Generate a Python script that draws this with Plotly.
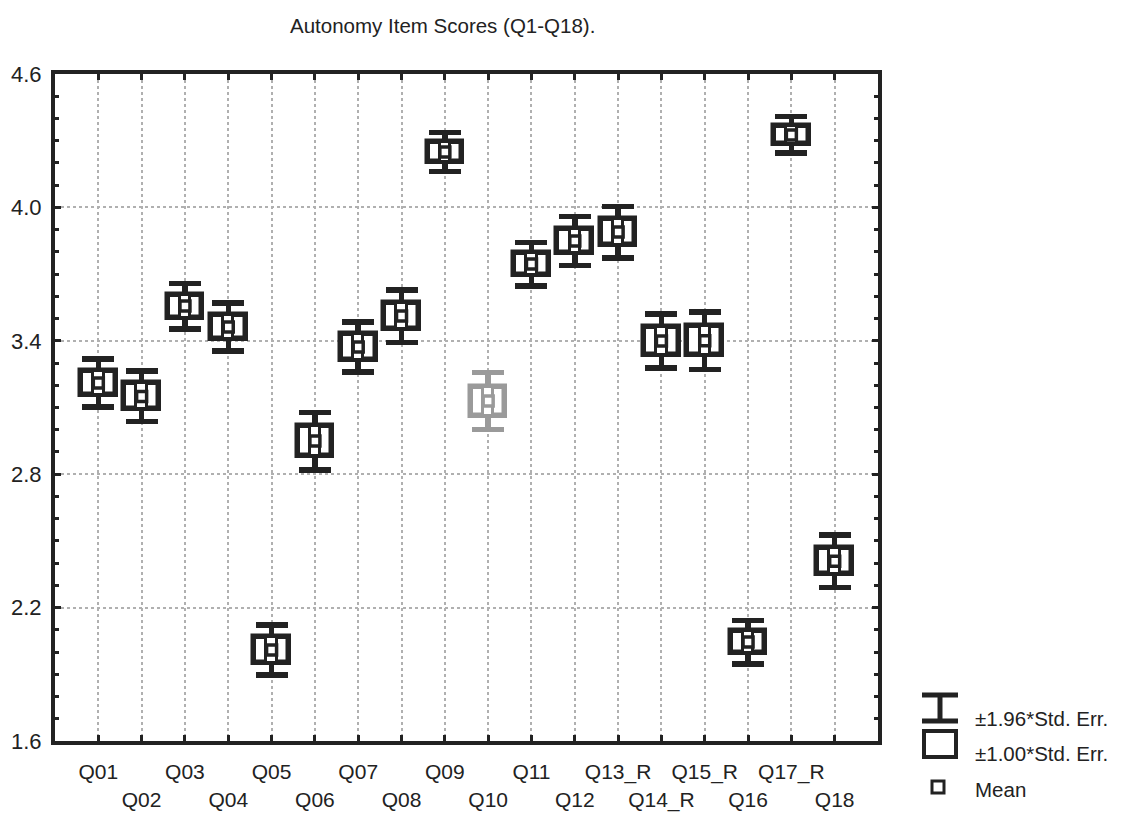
import plotly.graph_objects as go

# Item labels, means and standard errors of the autonomy scale
items = ["Q01", "Q02", "Q03", "Q04", "Q05", "Q06", "Q07", "Q08", "Q09",
         "Q10", "Q11", "Q12", "Q13_R", "Q14_R", "Q15_R", "Q16", "Q17_R", "Q18"]
means = [3.21, 3.15, 3.556, 3.462, 2.009, 2.949, 3.372, 3.511, 4.249,
         3.129, 3.745, 3.849, 3.889, 3.399, 3.40, 2.045, 4.326, 2.409]
std_err = [0.055, 0.058, 0.052, 0.055, 0.057, 0.066, 0.057, 0.060, 0.045,
           0.065, 0.050, 0.056, 0.059, 0.062, 0.066, 0.050, 0.042, 0.060]
item_colors = ["#222222"] * 9 + ["#9a9a9a"] + ["#222222"] * 8

y_ticks = [1.6, 2.2, 2.8, 3.4, 4.0, 4.6]
legend_labels = ["±1.96*Std. Err.", "±1.00*Std. Err.", "Mean"]
title_text = "Autonomy Item Scores (Q1-Q18)."

FONT = "Liberation Sans, Arial, Helvetica, sans-serif"
INK = "#222222"

W, H = 1121, 816
L, R, T, B = 55, 878, 74, 741   # plot-area edges in pixels


def px(X):
    return (X - L) / (R - L)


def py(Y):
    return (B - Y) / (B - T)


fig = go.Figure()
xs = list(range(len(items)))

for i, m, se, c in zip(xs, means, std_err, item_colors):
    # whiskers: ±1.96 SE with caps (carried by an invisible bar ending at the mean)
    fig.add_trace(go.Bar(
        x=[i], y=[m], width=0.8,
        marker=dict(color="rgba(0,0,0,0)", line=dict(width=0)),
        error_y=dict(type="data", array=[1.96 * se], color=c,
                     thickness=5.5, width=16),
        hoverinfo="skip", showlegend=False))
    # ±1 SE box
    fig.add_trace(go.Bar(
        x=[i], y=[2 * se], base=[m - se], width=0.8,
        marker=dict(color="white", line=dict(color=c, width=5.5)),
        hoverinfo="skip", showlegend=False))
    # central column inside the box
    fig.add_trace(go.Bar(
        x=[i], y=[2 * se], base=[m - se], width=0.24,
        marker=dict(color="white", line=dict(color=c, width=3)),
        hoverinfo="skip", showlegend=False))
    # mean marker
    fig.add_trace(go.Scatter(
        x=[i], y=[m], mode="markers",
        marker=dict(symbol="square", size=10, color="white",
                    line=dict(color=c, width=3.5)),
        hoverinfo="skip", showlegend=False))

# staggered category labels: odd items on the first row, even on the second
tick_text = [t if k % 2 == 0 else " <br>" + t for k, t in enumerate(items)]

fig.update_layout(
    width=W, height=H,
    margin=dict(l=L, r=W - R, t=T, b=H - B, pad=0, autoexpand=False),
    paper_bgcolor="white", plot_bgcolor="white",
    barmode="overlay", bargap=0,
    font=dict(family=FONT, color=INK),
    showlegend=False,
)

fig.update_xaxes(
    range=[-1, len(items)], tickmode="array", tickvals=xs, ticktext=tick_text,
    tickangle=0, automargin=False,
    tickfont=dict(size=21, family=FONT, color=INK),
    ticks="inside", ticklen=6, tickwidth=3, tickcolor=INK,
    showline=True, linewidth=4, linecolor=INK, mirror="allticks",
    showgrid=True, gridcolor="#b0b0b0", gridwidth=2, griddash="dot",
    zeroline=False, ticklabelstandoff=9,
)
fig.update_yaxes(
    range=[1.6, 4.6], tickmode="array", tickvals=y_ticks,
    ticktext=[f"{v:.1f}" for v in y_ticks], automargin=False,
    tickfont=dict(size=22, family=FONT, color=INK),
    ticks="inside", ticklen=6, tickwidth=3, tickcolor=INK,
    minor=dict(dtick=0.1, ticks="inside", ticklen=4, tickwidth=3,
               tickcolor=INK, showgrid=False),
    showline=True, linewidth=4, linecolor=INK, mirror="allticks",
    showgrid=True, gridcolor="#b0b0b0", gridwidth=2, griddash="dot",
    zeroline=False, ticklabelstandoff=5,
)

# title
fig.add_annotation(
    text=title_text, xref="paper", yref="paper", x=px(288), y=py(26),
    xanchor="left", yanchor="middle", showarrow=False,
    font=dict(size=20.5, family=FONT, color=INK))

# legend glyphs
shapes = []
line_k = dict(color=INK, width=5)
# whisker glyph
shapes.append(dict(type="line", xref="paper", yref="paper",
                   x0=px(922), x1=px(958), y0=py(695), y1=py(695), line=line_k))
shapes.append(dict(type="line", xref="paper", yref="paper",
                   x0=px(922), x1=px(958), y0=py(721), y1=py(721), line=line_k))
shapes.append(dict(type="line", xref="paper", yref="paper",
                   x0=px(940), x1=px(940), y0=py(695), y1=py(721), line=line_k))
# box glyph
shapes.append(dict(type="rect", xref="paper", yref="paper",
                   x0=px(924), x1=px(956), y0=py(731), y1=py(757),
                   line=dict(color=INK, width=4), fillcolor="white"))
# mean glyph
shapes.append(dict(type="rect", xref="paper", yref="paper",
                   x0=px(932), x1=px(944), y0=py(781), y1=py(793),
                   line=dict(color=INK, width=3), fillcolor="white"))
fig.update_layout(shapes=shapes)

for label, yc in zip(legend_labels, [718, 753, 789]):
    fig.add_annotation(
        text=label, xref="paper", yref="paper", x=px(973), y=py(yc),
        xanchor="left", yanchor="middle", showarrow=False,
        font=dict(size=20.5, family=FONT, color=INK))

fig.write_html("out.html")
